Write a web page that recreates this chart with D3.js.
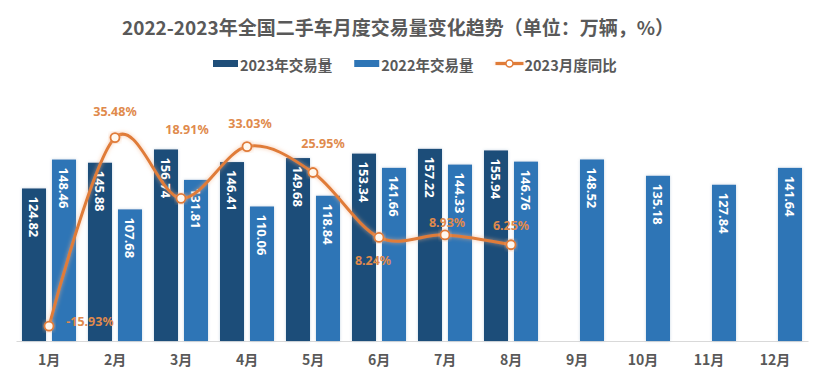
<!DOCTYPE html>
<html>
<head>
<meta charset="utf-8">
<script src="https://cdn.jsdelivr.net/npm/d3@7"></script>
<style>
  body { margin: 0; background: #fff; }
  svg { display: block; font-family: "Noto Sans CJK SC", "Noto Sans", sans-serif; }
</style>
</head>
<body>
<svg width="826" height="387"></svg>
<script>
// Data
var months = ["1月", "2月", "3月", "4月", "5月", "6月", "7月", "8月", "9月", "10月", "11月", "12月"];
var sales2023 = [124.82, 145.88, 156.74, 146.41, 149.68, 153.34, 157.22, 155.94];
var sales2022 = [148.46, 107.68, 131.81, 110.06, 118.84, 141.66, 144.33, 146.76, 148.52, 135.18, 127.84, 141.64];
var yoy2023 = [-15.93, 35.48, 18.91, 33.03, 25.95, 8.24, 8.93, 6.25];

// hand placed data labels of the line (offset from the point, px)
var yoyLabelShift = [[41, -5], [0, -26], [6, -69], [3, -23], [10, -29], [-6, 23], [2, -12], [0, -19]];

var svg = d3.select("svg"),
    dark = "#1f4e79",
    light = "#2e75b6",
    orange = "#e07b39",
    grey = "#595959";

var defs = svg.append("defs");
var shadow = defs.append("filter").attr("id", "shadow")
  .attr("x", "-30%").attr("y", "-10%").attr("width", "160%").attr("height", "120%");
shadow.append("feDropShadow").attr("dx", 0).attr("dy", 0).attr("stdDeviation", 1.6)
  .attr("flood-color", "#7f9fbf").attr("flood-opacity", 0.45);
var glow = defs.append("filter").attr("id", "glow")
  .attr("x", "-20%").attr("y", "-20%").attr("width", "140%").attr("height", "140%");
glow.append("feDropShadow").attr("dx", 0).attr("dy", 0).attr("stdDeviation", 2)
  .attr("flood-color", "#f4b183").attr("flood-opacity", 0.7);

// Scales
var x = d3.scaleBand().domain(months).range([16, 808]).padding(0),
    sub = d3.scaleBand().domain(["2023", "2022"]).range([0, x.bandwidth()])
      .paddingInner(0.2).paddingOuter(0.2),
    y = d3.scaleLinear().domain([0, 180]).range([341, 121]),
    y2 = d3.scaleLinear().domain([-20, 40]).range([341, 121]);

// Title
svg.append("text")
  .attr("x", 398).attr("y", 26)
  .attr("text-anchor", "middle")
  .attr("dominant-baseline", "central")
  .style("font-size", "19px").style("font-weight", "bold")
  .attr("fill", grey)
  .text("2022-2023年全国二手车月度交易量变化趋势（单位：万辆，%）");

// Legend
var legend = svg.append("g").style("font-size", "14.5px").style("font-weight", "bold").attr("fill", grey);
var lx = 213;
[["2023年交易量", dark, "rect"], ["2022年交易量", light, "rect"], ["2023月度同比", orange, "line"]].forEach(function(item) {
  if (item[2] == "rect") {
    legend.append("rect").attr("x", lx).attr("y", 60).attr("width", 25).attr("height", 7).attr("fill", item[1]);
    lx += 27;
  } else {
    // a flat line has no height, so no filter on it
    legend.append("rect").attr("x", lx).attr("y", 62).attr("width", 28).attr("height", 3)
      .attr("fill", orange).attr("filter", "url(#glow)");
    legend.append("circle").attr("cx", lx + 14).attr("cy", 63.5).attr("r", 3.5)
      .attr("fill", "#fff").attr("stroke", orange).attr("stroke-width", 1.5);
    lx += 29;
  }
  var t = legend.append("text").attr("x", lx).attr("y", 64)
    .attr("dominant-baseline", "central").text(item[0]);
  lx += t.node().getComputedTextLength() + 22;
});

// Axis
var xAxis = svg.append("g")
  .attr("transform", "translate(0,341)")
  .call(d3.axisBottom(x).tickSize(0).tickPadding(14));
xAxis.select(".domain").attr("stroke", "#d9d9d9").attr("stroke-width", 1.2);
xAxis.selectAll("text")
  .attr("fill", grey)
  .style("font-family", "'Noto Sans CJK SC', sans-serif")
  .style("font-size", "14px").style("font-weight", "bold");

// Bars
var bars = [];
sales2023.forEach(function(v, i) { bars.push({month: months[i], year: "2023", value: v}); });
sales2022.forEach(function(v, i) { bars.push({month: months[i], year: "2022", value: v}); });

var g = svg.append("g");
g.selectAll(".bar")
  .data(bars)
  .enter()
  .append("rect")
  .attr("class", "bar")
  .attr("x", function(d) { return x(d.month) + sub(d.year); })
  .attr("y", function(d) { return y(d.value); })
  .attr("width", sub.bandwidth())
  .attr("height", function(d) { return y(0) - y(d.value); })
  .attr("fill", function(d) { return d.year == "2023" ? dark : light; })
  .attr("filter", "url(#shadow)");

g.selectAll(".barlabel")
  .data(bars)
  .enter()
  .append("text")
  .attr("class", "barlabel")
  .attr("transform", function(d) {
    return "translate(" + (x(d.month) + sub(d.year) + sub.bandwidth() / 2) + "," + (y(d.value) + 8) + ") rotate(90)";
  })
  .attr("dominant-baseline", "central")
  .attr("fill", "#fff")
  .style("font-family", "'Noto Sans', sans-serif")
  .style("font-size", "13px").style("font-weight", "bold")
  .text(function(d) { return d.value.toFixed(2); });

// Year on year line
var pts = yoy2023.map(function(v, i) { return {month: months[i], value: v, i: i}; });
var cx = function(d) { return x(d.month) + x.bandwidth() / 2; };

var line = d3.line()
  .x(cx)
  .y(function(d) { return y2(d.value); })
  .curve(d3.curveCardinal.tension(0));

svg.append("path")
  .datum(pts)
  .attr("d", line)
  .attr("fill", "none")
  .attr("stroke", orange)
  .attr("stroke-width", 3)
  .attr("filter", "url(#glow)");

svg.selectAll(".dot")
  .data(pts)
  .enter()
  .append("circle")
  .attr("class", "dot")
  .attr("cx", cx)
  .attr("cy", function(d) { return y2(d.value); })
  .attr("r", 4.5)
  .attr("fill", "#fff8ef")
  .attr("stroke", orange)
  .attr("stroke-width", 1.8)
  .attr("filter", "url(#glow)");

svg.selectAll(".yoylabel")
  .data(pts)
  .enter()
  .append("text")
  .attr("class", "yoylabel")
  .attr("x", function(d) { return cx(d) + yoyLabelShift[d.i][0]; })
  .attr("y", function(d) { return y2(d.value) + yoyLabelShift[d.i][1]; })
  .attr("text-anchor", "middle")
  .attr("dominant-baseline", "central")
  .attr("fill", "#e08a4c")
  .style("font-family", "'Noto Sans', sans-serif")
  .style("font-size", "12.5px").style("font-weight", "bold")
  .text(function(d) { return d.value.toFixed(2) + "%"; });
</script>
</body>
</html>
